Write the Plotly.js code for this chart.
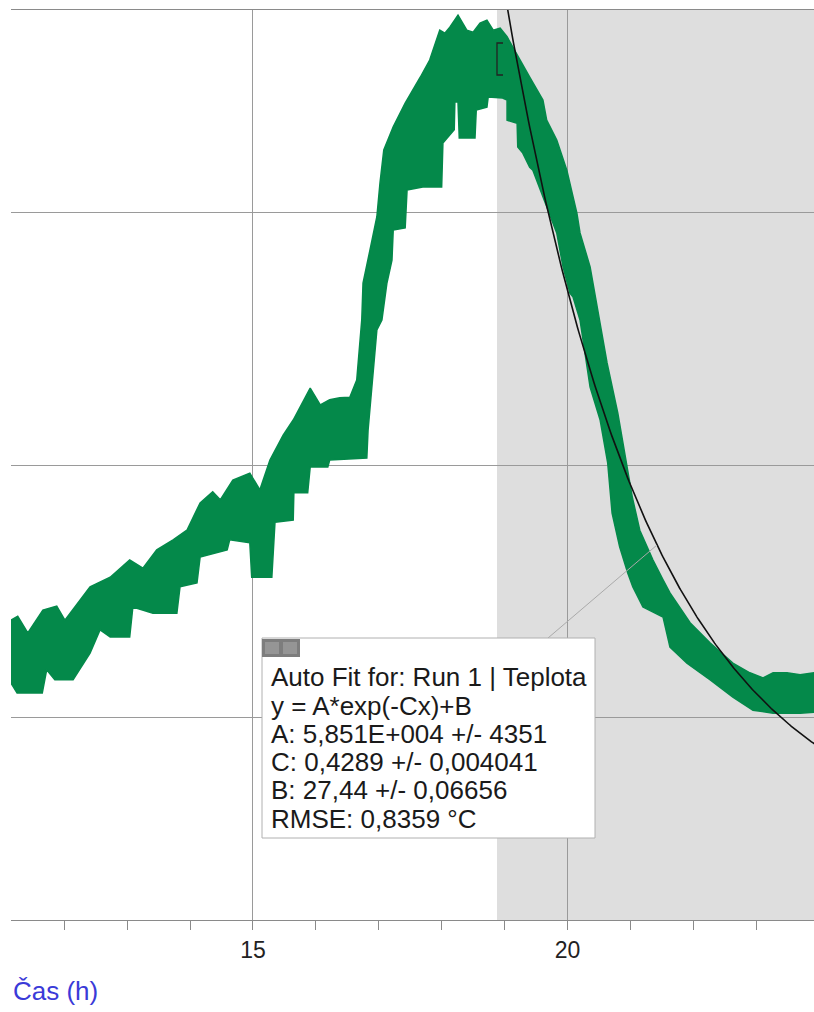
<!DOCTYPE html>
<html><head><meta charset="utf-8">
<script src="https://cdn.plot.ly/plotly-3.0.1.min.js"></script>
<style>html,body{margin:0;padding:0;background:#fff}#chart{width:814px;height:1012px}</style>
</head><body><div id="chart"></div>
<script>
// Data band (Run 1 | Teplota): upper and lower envelope of the plotted points
const upperX = [11.15,11.26,11.42,11.66,11.88,12.01,12.41,12.73,13.04,13.25,13.47,13.73,13.95,14.16,14.36,14.48,14.68,14.95,15.11,15.27,15.48,15.64,15.91,16.07,16.22,16.38,16.54,16.65,16.73,16.75,16.86,16.97,17.02,17.08,17.23,17.42,17.66,17.81,17.97,18.05,18.13,18.26,18.40,18.50,18.61,18.72,18.82,18.93,19.04,19.24,19.40,19.61,19.67,19.83,19.99,20.15,20.20,20.36,20.44,20.63,20.80,20.95,21.03,21.15,21.36,21.52,21.63,21.95,22.27,22.63,22.90,23.11,23.27,23.49,23.70,23.92];
const upperY = [31.93,32.01,31.68,32.13,32.21,31.93,32.59,32.78,33.12,32.96,33.32,33.52,33.71,34.25,34.47,34.31,34.70,34.84,34.51,35.10,35.59,35.89,36.52,36.19,36.29,36.33,36.34,36.68,37.87,38.60,39.25,39.91,40.58,41.23,41.69,42.16,42.67,43.01,43.60,43.54,43.66,43.90,43.60,43.56,43.74,43.80,43.60,43.64,43.47,43.01,42.67,42.22,41.82,41.43,40.83,39.98,39.59,38.92,38.36,37.02,36.03,34.96,34.37,33.71,33.12,32.73,32.47,31.88,31.48,31.08,30.89,30.79,30.89,30.89,30.85,30.89];
const lowerX = [11.15,11.25,11.65,11.72,11.85,12.14,12.41,12.57,12.73,13.04,13.09,13.41,13.79,13.84,14.11,14.16,14.59,14.63,14.95,14.98,15.30,15.35,15.64,15.65,15.87,15.91,16.19,16.22,16.81,16.83,16.91,16.97,17.05,17.13,17.21,17.23,17.42,17.45,17.70,18.00,18.02,18.20,18.21,18.26,18.28,18.53,18.55,18.72,18.74,18.97,19.04,19.04,19.20,19.21,19.29,19.40,19.45,19.67,19.83,19.93,20.04,20.09,20.20,20.36,20.52,20.64,20.71,20.83,20.96,21.04,21.20,21.52,21.63,21.90,22.27,22.63,22.95,23.27,23.70,23.92];
const lowerY = [30.69,30.49,30.49,30.95,30.75,30.75,31.28,31.74,31.60,31.60,32.19,32.07,32.07,32.59,32.67,33.18,33.32,33.52,33.46,32.78,32.78,33.87,33.91,34.45,34.45,34.96,34.96,35.10,35.14,35.69,36.82,37.67,37.87,38.60,39.05,39.65,39.69,40.44,40.50,40.50,41.37,41.63,42.18,42.18,41.47,41.47,42.02,42.08,42.28,42.26,42.22,41.82,41.76,41.29,41.17,40.89,40.83,40.10,39.59,38.92,38.40,38.32,37.87,36.54,35.89,35.04,34.05,33.38,32.86,32.59,32.19,31.99,31.40,31.08,30.75,30.41,30.15,30.09,30.09,30.11];

// Fit parameters (y = A*exp(-Cx)+B) and fit range
const fitA = 5.851e4, fitC = 0.4289, fitB = 27.44;
const fitStart = 18.88, fitEnd = 24.0;
const fitLines = ["Auto Fit for: Run 1 | Teplota","y = A*exp(-Cx)+B","A: 5,851E+004 +/- 4351","C: 0,4289 +/- 0,004041","B: 27,44 +/- 0,06656","RMSE: 0,8359 °C"];

const xTitle = "Čas (h)";
const xRange = [11.153, 23.92], yRange = [26, 44];

// Build band polygon
const bandX = upperX.concat(lowerX.slice().reverse());
const bandY = upperY.concat(lowerY.slice().reverse());

const fitX = [], fitY = [];
for (let x = fitStart; x <= fitEnd; x += 0.02) { fitX.push(x); fitY.push(fitA*Math.exp(-fitC*x)+fitB); }

// pixel helpers for layout decorations
const L = 11, T = 10, W = 803, H = 910;
const px = p => (p - L) / W;
const py = p => (T + H - p) / H;

const green = '#04894a';
const font = 'Liberation Sans, Arial, sans-serif';

const traces = [
  {x: bandX, y: bandY, type: 'scatter', mode: 'lines', fill: 'toself', fillcolor: green,
   line: {color: green, width: 1.5}, hoverinfo: 'skip'},
  {x: fitX, y: fitY, type: 'scatter', mode: 'lines', line: {color: '#111', width: 1.6}, hoverinfo: 'skip'}
];

const shapes = [
  {type: 'rect', xref: 'x', yref: 'paper', x0: fitStart, x1: 30, y0: 0, y1: 1, fillcolor: '#dedede', line: {width: 0}, layer: 'below'},
  // bracket marking start of fit range
  {type: 'path', xref: 'paper', yref: 'paper', path: `M ${px(503)} ${py(43)} L ${px(497)} ${py(43)} L ${px(497)} ${py(75)} L ${px(503)} ${py(75)}`, line: {color: '#222', width: 1.3}},
  // leader line
  {type: 'line', xref: 'paper', yref: 'paper', x0: px(548), y0: py(638), x1: px(657), y1: py(545), line: {color: '#aaaaaa', width: 1}},
  // fit info box
  {type: 'rect', xref: 'paper', yref: 'paper', x0: px(262), x1: px(595), y0: py(838), y1: py(638), fillcolor: '#ffffff', line: {color: '#b0b0b0', width: 1}},
  {type: 'rect', xref: 'paper', yref: 'paper', x0: px(262), x1: px(300), y0: py(657), y1: py(639), fillcolor: '#7d7d7d', line: {width: 0}},
  {type: 'rect', xref: 'paper', yref: 'paper', x0: px(265), x1: px(279), y0: py(654), y1: py(642), fillcolor: '#959595', line: {width: 0}},
  {type: 'rect', xref: 'paper', yref: 'paper', x0: px(283), x1: px(297), y0: py(654), y1: py(642), fillcolor: '#959595', line: {width: 0}}
];

const lineY = [677, 706, 734, 762, 790, 819];
const annotations = fitLines.map((t, i) => ({
  text: t, xref: 'paper', yref: 'paper', x: px(269), y: py(lineY[i]), xanchor: 'left', yanchor: 'middle',
  showarrow: false, font: {family: font, size: 26, color: '#1a1a1a'}
}));
annotations.push({text: xTitle, xref: 'paper', yref: 'paper', x: px(11), y: py(991), xanchor: 'left', yanchor: 'middle',
  showarrow: false, font: {family: font, size: 26, color: '#3a3ad8'}});

const layout = {
  width: 814, height: 1012,
  margin: {l: L, r: 0, t: T, b: 1012 - T - H, pad: 0},
  paper_bgcolor: '#ffffff', plot_bgcolor: '#ffffff',
  showlegend: false,
  xaxis: {range: xRange, dtick: 5, tick0: 0, showgrid: true, gridcolor: '#9a9a9a', gridwidth: 1,
    zeroline: false, showline: true, mirror: true, linecolor: '#8a8a8a', linewidth: 1,
    ticks: 'outside', ticklen: 9, tickcolor: '#8a8a8a', tickfont: {family: font, size: 23, color: '#222'},
    minor: {dtick: 1, tick0: 0, ticks: 'outside', ticklen: 9, tickcolor: '#8a8a8a', showgrid: false}},
  yaxis: {range: yRange, dtick: 5, tick0: 0, showgrid: true, gridcolor: '#9a9a9a', gridwidth: 1,
    zeroline: false, showline: false, showticklabels: false, ticks: ''},
  shapes: shapes, annotations: annotations
};

Plotly.newPlot('chart', traces, layout, {staticPlot: true, displayModeBar: false});
</script></body></html>
